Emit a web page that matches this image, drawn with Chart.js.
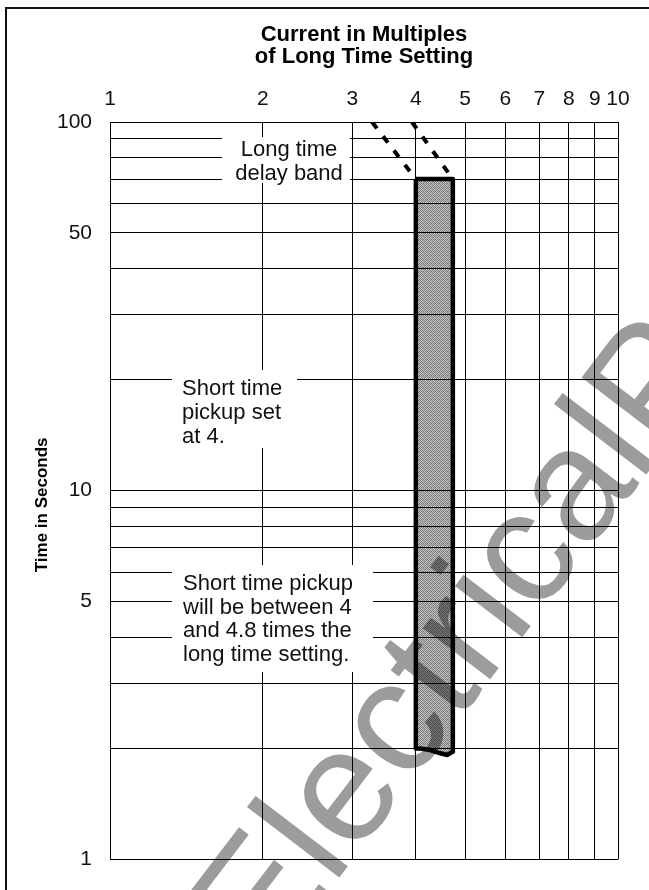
<!DOCTYPE html>
<html><head><meta charset="utf-8">
<script src="https://cdn.jsdelivr.net/npm/chart.js@4"></script>
<style>
html,body{margin:0;padding:0;background:#fff;}
#wrap{position:relative;width:649px;height:890px;overflow:hidden;background:#fff;}
#frame{position:absolute;left:5px;top:7px;width:700px;height:900px;border-left:2px solid #111;border-top:2px solid #111;}
canvas{position:absolute;left:0;top:0;}
</style></head><body>
<div id="wrap"><div id="frame"></div><canvas id="c" width="649" height="890"></canvas></div>
<script>
// ---- data ----
const xTickValues = [1,2,3,4,5,6,7,8,9,10];
const xTickLabels = ['1','2','3','4','5','6','7','8','9','10'];
const yGridValues = [1,2,3,4,5,6,7,8,9,10,20,30,40,50,60,70,80,90,100];
const yLabelValues = [1,5,10,50,100];
const bandX = [4.0, 4.73, 4.73, 4.61, 4.47, 4.27, 4.08, 4.0, 4.0];
const bandY = [70, 70, 1.96, 1.92, 1.94, 1.98, 2.0, 2.0, 70];
const leftDashX = [3.28, 4.0];
const leftDashY = [100, 70];
const rightDashX = [3.93, 4.73];
const rightDashY = [100, 70];
const xTitle = ['Current in Multiples', 'of Long Time Setting'];
const yTitle = 'Time in Seconds';
const noteTexts = [
  ['Long time', 'delay band'],
  ['Short time', 'pickup set', 'at 4.'],
  ['Short time pickup', 'will be between 4', 'and 4.8 times the', 'long time setting.']
];
const watermarkText = 'ElectricalPartManuals.com';

// ---- layout of notes (pixels) ----
const noteLayout = [
  {align:'center', x:289, baseline:156, lh:24, box:[222,137,350,183]},
  {align:'left', x:182, baseline:395, lh:24, box:[172,370,297,448]},
  {align:'left', x:183, baseline:590, lh:23.7, box:[172,565,373,672]}
];

const pts = (xs, ys) => xs.map((x, i) => ({x, y: ys[i]}));
const FONT = '"Liberation Sans", Arial, Helvetica, sans-serif';

// stippled fill for the band
function stipple() {
  const c = document.createElement('canvas');
  c.width = 4; c.height = 4;
  const g = c.getContext('2d');
  const a = [[0.45,0.22,0.52,0.28],[0.30,0.55,0.18,0.48],[0.50,0.25,0.44,0.20],[0.22,0.50,0.32,0.56]];
  for (let i = 0; i < 4; i++) for (let j = 0; j < 4; j++) {
    g.fillStyle = 'rgba(0,0,0,' + a[i][j] + ')';
    g.fillRect(j, i, 1, 1);
  }
  return g.createPattern(c, 'repeat');
}

const watermarkPlugin = {
  id: 'wm',
  beforeDraw(chart) {
    const ctx = chart.ctx;
    ctx.save();
    ctx.translate(268, 971);
    ctx.rotate(-52.7 * Math.PI / 180);
    ctx.font = '160px ' + FONT;
    ctx.fillStyle = '#9c9c9c';
    ctx.textBaseline = 'alphabetic';
    ctx.fillText(watermarkText, 0, 0);
    ctx.restore();
  }
};

const notesPlugin = {
  id: 'notes',
  afterDraw(chart) {
    const ctx = chart.ctx;
    ctx.save();
    noteLayout.forEach((n, i) => {
      const [x0, y0, x1, y1] = n.box;
      ctx.fillStyle = '#fff';
      ctx.fillRect(x0, y0, x1 - x0, y1 - y0);
      ctx.fillStyle = '#111';
      ctx.font = '22px ' + FONT;
      ctx.textAlign = n.align;
      ctx.textBaseline = 'alphabetic';
      noteTexts[i].forEach((t, k) => ctx.fillText(t, n.x, n.baseline + k * n.lh));
    });
    ctx.restore();
  }
};

new Chart(document.getElementById('c'), {
  type: 'scatter',
  data: {
    datasets: [
      {
        data: pts(bandX, bandY), showLine: true, fill: 'shape',
        backgroundColor: stipple(), borderColor: '#000', borderWidth: 4.5,
        pointRadius: 0, tension: 0, borderJoinStyle: 'round'
      },
      {
        data: pts(leftDashX, leftDashY), showLine: true, fill: false,
        borderColor: '#000', borderWidth: 4, borderDash: [8, 10], pointRadius: 0
      },
      {
        data: pts(rightDashX, rightDashY), showLine: true, fill: false,
        borderColor: '#000', borderWidth: 4, borderDash: [8, 10], pointRadius: 0
      }
    ]
  },
  options: {
    responsive: false,
    animation: false,
    events: [],
    layout: { padding: { left: 0, right: 31, top: 0, bottom: 28 } },
    plugins: { legend: { display: false }, tooltip: { enabled: false } },
    scales: {
      x: {
        type: 'logarithmic', position: 'top', min: 1, max: 10,
        afterBuildTicks: s => { s.ticks = xTickValues.map(v => ({ value: v })); },
        afterFit: s => { s.height = 122; },
        ticks: {
          autoSkip: false, maxRotation: 0, padding: 10, color: '#111',
          font: { family: FONT, size: 21 },
          callback: (v) => { const i = xTickValues.indexOf(v); return i >= 0 ? xTickLabels[i] : ''; }
        },
        grid: { color: '#000', lineWidth: 1, drawTicks: false },
        border: { display: true, color: '#000', width: 1 },
        title: {
          display: true, text: xTitle, color: '#000',
          font: { family: FONT, size: 22, weight: 'bold', lineHeight: 1.0 },
          padding: { top: 24, bottom: 0 }
        }
      },
      y: {
        type: 'logarithmic', position: 'left', min: 1, max: 100,
        afterBuildTicks: s => { s.ticks = yGridValues.map(v => ({ value: v })); },
        afterFit: s => { s.width = 110; },
        ticks: {
          autoSkip: false, padding: 18, color: '#111',
          font: { family: FONT, size: 21 },
          callback: (v) => yLabelValues.includes(v) ? String(v) : ''
        },
        grid: { color: '#000', lineWidth: 1, drawTicks: false },
        border: { display: true, color: '#000', width: 1 },
        title: {
          display: true, text: yTitle + '\u00a0\u00a0\u00a0\u00a0\u00a0\u00a0', color: '#000',
          font: { family: FONT, size: 17, weight: 'bold' },
          padding: { top: 32, bottom: 0 }
        }
      }
    }
  },
  plugins: [watermarkPlugin, notesPlugin]
});
</script>
</body></html>
